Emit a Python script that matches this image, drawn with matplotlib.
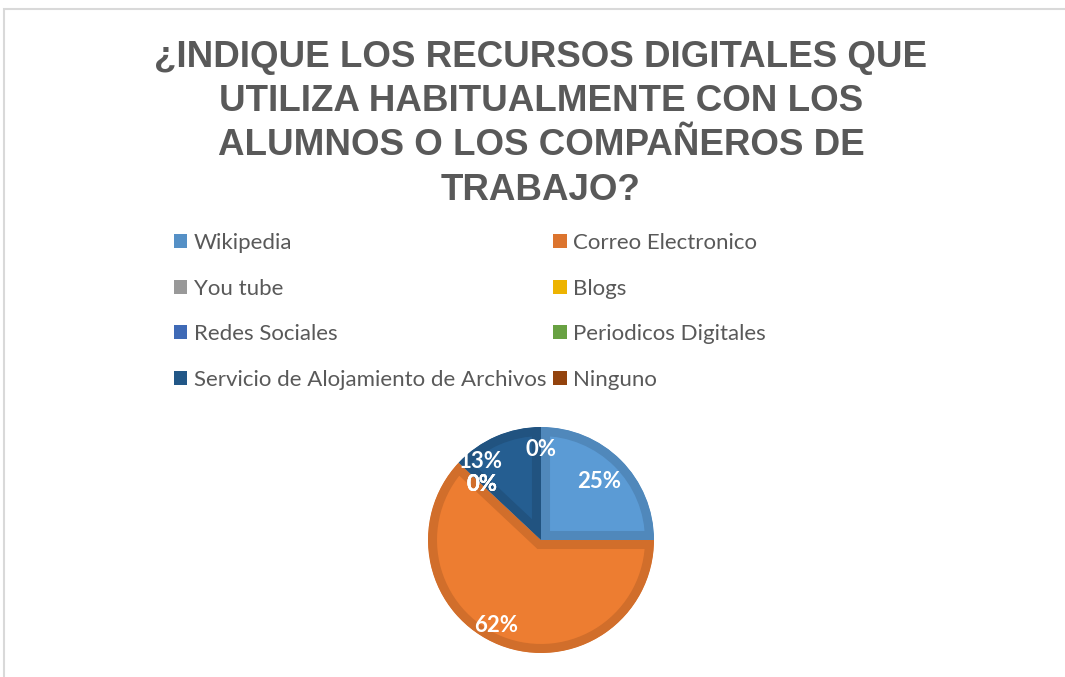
import numpy as np
import matplotlib.pyplot as plt
import matplotlib.colors as mcolors
from matplotlib.patches import Rectangle

# data
recursos = ['Wikipedia', 'Correo Electronico', 'You tube', 'Blogs',
            'Redes Sociales', 'Periodicos Digitales',
            'Servicio de Alojamiento de Archivos', 'Ninguno']
porcentaje = [25, 62, 0, 0, 0, 0, 13, 0]
colores = ['#5B9BD5', '#ED7D31', '#A5A5A5', '#FFC000',
           '#4472C4', '#70AD47', '#255E91', '#9E480E']

titulo = ('¿INDIQUE LOS RECURSOS DIGITALES QUE\n'
          'UTILIZA HABITUALMENTE CON LOS\n'
          'ALUMNOS O LOS COMPAÑEROS DE\n'
          'TRABAJO?')

# label placement (fraction of radius, angular nudge in degrees)
lab_r = [0.73, 0.85, 0.72, 0.72, 0.72, 0.72, 0.88, 0.80]
lab_shift = [0, -6, 0, 0, 0, 0, 14, 0]

W, H = 1065, 677
fig = plt.figure(figsize=(W / 100, H / 100), dpi=100)
fig.patch.set_facecolor('white')

# chart border (top + left only visible)
fig.add_artist(Rectangle((4 / W, -0.1), 1.2, (H - 9) / H + 0.1, transform=fig.transFigure,
                         fill=False, edgecolor='#D9D9D9', linewidth=1.5))

fig.text(541 / W, 1 - 40 / H, titulo, ha='center', va='top', fontsize=26.5,
         fontweight='bold', color='#595959', family='Liberation Sans',
         linespacing=1.34)

# pie axes
cx, cy, R = 541, 540, 113
ax = fig.add_axes([(cx - R) / W, (H - cy - R) / H, 2 * R / W, 2 * R / H])
wedges, _ = ax.pie(porcentaje, colors=colores, startangle=90, counterclock=False,
                   wedgeprops=dict(linewidth=13))
ax.set_xlim(-1, 1)
ax.set_ylim(-1, 1)
ax.set_aspect('equal')
ax.axis('off')

for w, c, v in zip(wedges, colores, porcentaje):
    dark = np.array(mcolors.to_rgb(c)) * 0.88
    w.set_edgecolor(dark)
    if v == 0:
        w.set_linewidth(0)
    w.set_clip_on(True)
    w.set_clip_path(w)

total = sum(porcentaje)
for w, v, r, s in zip(wedges, porcentaje, lab_r, lab_shift):
    ang = np.deg2rad((w.theta1 + w.theta2) / 2 + s)
    ax.text(r * np.cos(ang), r * np.sin(ang), f'{v / total * 100:.0f}%',
            ha='center', va='center', color='white', fontsize=16,
            fontweight='bold', family='Lato', clip_on=False)

# legend laid out row-wise in two columns
orden = [0, 2, 4, 6, 1, 3, 5, 7]
leg = fig.legend([wedges[i] for i in orden], [recursos[i] for i in orden],
                 loc='upper left', bbox_to_anchor=(174 / W, 1 - 233 / H),
                 ncol=2, frameon=False, handlelength=0.6,
                 handleheight=0.6, handletextpad=0.3, columnspacing=0.3,
                 labelspacing=1.15, borderpad=0, borderaxespad=0,
                 prop=dict(family='Lato', size=16))
for t in leg.get_texts():
    t.set_color('#595959')
for h, i in zip(leg.legend_handles, orden):
    h.set_edgecolor('none')
    h.set_linewidth(0)
    h.set_facecolor(np.array(mcolors.to_rgb(colores[i])) * 0.93)

fig.savefig('out.png', dpi=100)
